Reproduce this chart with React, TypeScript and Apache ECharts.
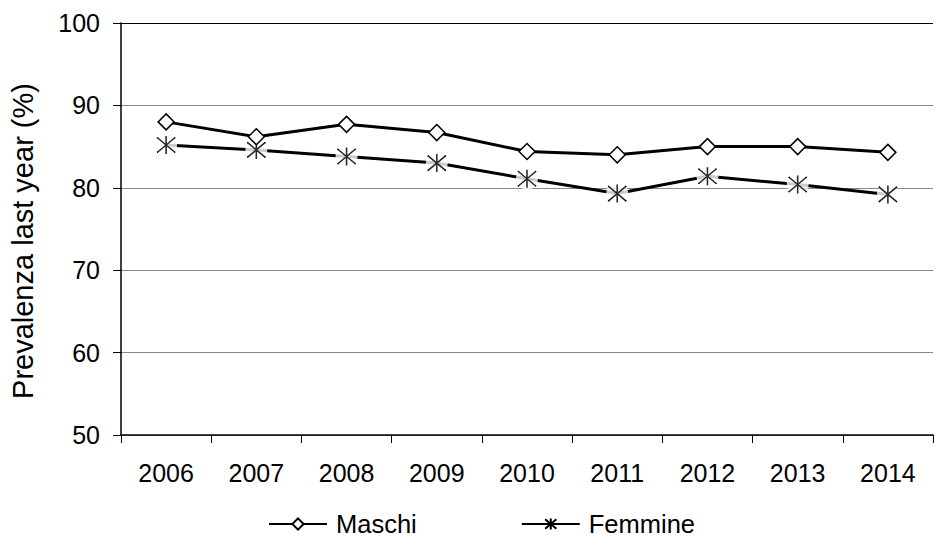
import React, { useEffect, useRef } from "react";
import * as echarts from "echarts";

const years = ["2006", "2007", "2008", "2009", "2010", "2011", "2012", "2013", "2014"];
const maschi = [88.0, 86.2, 87.7, 86.7, 84.4, 84.0, 85.0, 85.0, 84.3];
const femmine = [85.2, 84.6, 83.8, 83.0, 81.1, 79.3, 81.4, 80.4, 79.2];
const yTitle = "Prevalenza last year (%)";
const font = "'Liberation Sans', Arial, sans-serif";
const asterisk = "path://M0,0L10,10M10,0L0,10M5,-1L5,11";

export default function App() {
  const ref = useRef<HTMLDivElement>(null);
  useEffect(() => {
    if (!ref.current) return;
    const chart = echarts.init(ref.current, null, { renderer: "svg" });
    chart.setOption({
      animation: false,
      backgroundColor: "#fff",
      textStyle: { fontFamily: font, color: "#000" },
      grid: { left: 121, right: 3, top: 23, bottom: 104, containLabel: false },
      legend: {
        left: 268,
        top: 511,
        padding: 0,
        itemWidth: 58,
        itemHeight: 14,
        itemGap: 104,
        textStyle: {
          fontSize: 25.5,
          lineHeight: 22,
          color: "#000",
          fontFamily: font,
          padding: [0, 0, 0, 4],
        },
        data: ["Maschi", "Femmine"],
      },
      graphic: [
        {
          type: "text",
          x: 23,
          y: 241,
          rotation: Math.PI / 2,
          style: {
            text: yTitle,
            font: `29px ${font}`,
            fill: "#000",
            align: "center",
            verticalAlign: "middle",
          },
        },
      ],
      xAxis: {
        type: "category",
        data: years,
        boundaryGap: true,
        axisLine: { lineStyle: { color: "#000", width: 1.5 } },
        axisTick: { show: true, length: 8, lineStyle: { color: "#000", width: 1 } },
        axisLabel: { fontSize: 25, color: "#000", margin: 25, fontFamily: font },
        splitLine: { show: false },
      },
      yAxis: {
        type: "value",
        min: 50,
        max: 100,
        interval: 10,
        axisLine: { show: true, lineStyle: { color: "#000", width: 1.5 } },
        axisTick: { show: true, length: 8, lineStyle: { color: "#000", width: 1 } },
        axisLabel: { fontSize: 25, color: "#000", margin: 21, fontFamily: font },
        splitLine: {
          show: true,
          lineStyle: { color: ["#888", "#888", "#888", "#888", "#888", "#000"], width: 1.2 },
        },
      },
      series: [
        {
          name: "Femmine",
          type: "line",
          data: femmine,
          symbol: asterisk,
          symbolSize: 18,
          lineStyle: { color: "#000", width: 3 },
          itemStyle: { color: "#fff", borderColor: "#000", borderWidth: 1.5 },
          z: 2,
        },
        {
          name: "gap",
          type: "scatter",
          data: femmine,
          symbol: "circle",
          symbolSize: 22,
          itemStyle: { color: "#fff", borderWidth: 0 },
          silent: true,
          z: 3,
        },
        {
          name: "marks",
          type: "scatter",
          data: femmine,
          symbol: asterisk,
          symbolSize: 18,
          itemStyle: { color: "#fff", borderColor: "#000", borderWidth: 1.5 },
          silent: true,
          z: 4,
        },
        {
          name: "Maschi",
          type: "line",
          data: maschi,
          symbol: "diamond",
          symbolSize: 16,
          lineStyle: { color: "#000", width: 3 },
          itemStyle: { color: "#fff", borderColor: "#000", borderWidth: 1.5 },
          z: 5,
        },
      ],
    });
    return () => chart.dispose();
  }, []);
  return <div ref={ref} style={{ width: 936, height: 539, position: "absolute", left: 0, top: 0 }} />;
}
